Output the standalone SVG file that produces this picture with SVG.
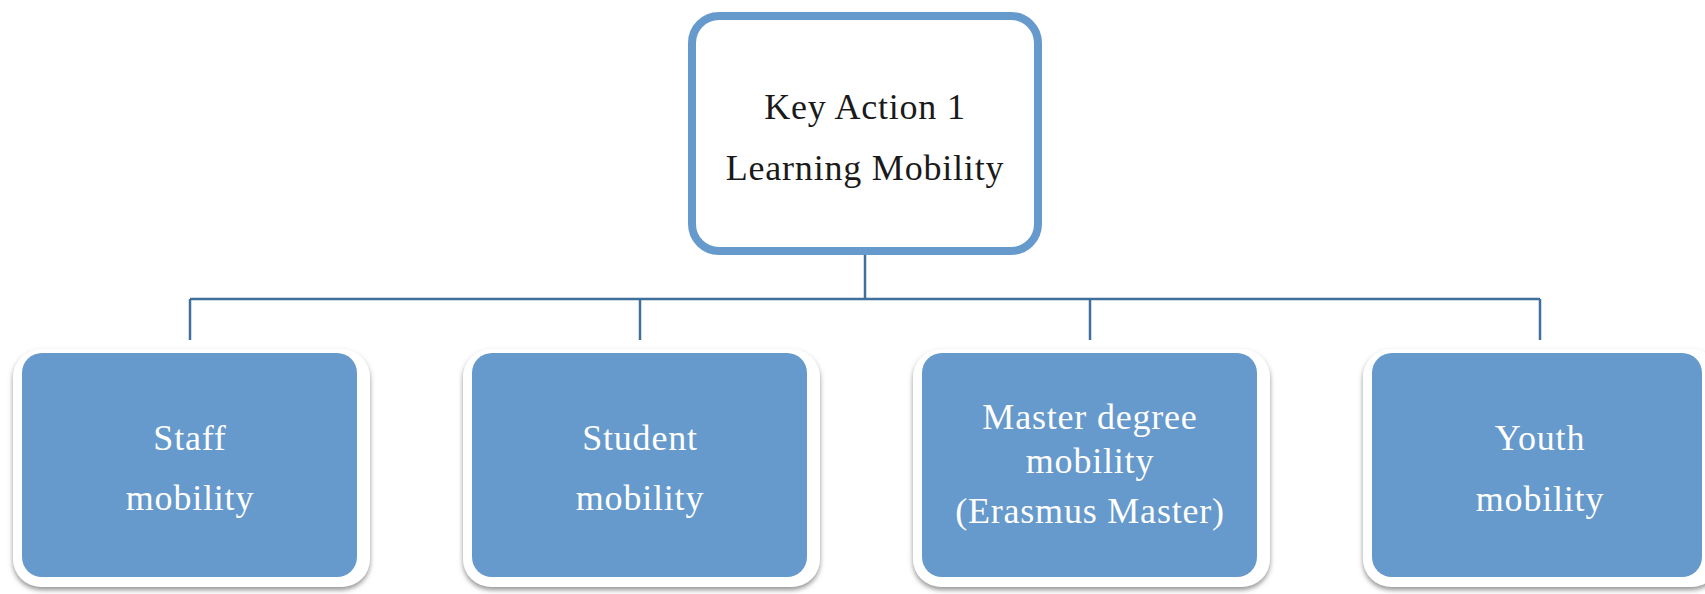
<svg xmlns="http://www.w3.org/2000/svg" width="1705" height="594" viewBox="0 0 1705 594">
<style>
.conn{stroke:#3f6f9c;stroke-width:2.5;fill:none}
.top{fill:#ffffff;stroke:#6699cc;stroke-width:8}
.frame{fill:#ffffff;filter:url(#sh)}
.blue{fill:#6699cc}
.t{font-family:"Liberation Serif","DejaVu Serif",serif;font-size:36px;letter-spacing:0.8px;text-anchor:middle}
.dark{fill:#1a1a1a}
.light{fill:#ffffff}
</style>
<defs>
<filter id="sh" x="-10%" y="-10%" width="120%" height="125%">
<feGaussianBlur in="SourceAlpha" stdDeviation="2.5"/>
<feOffset dx="0" dy="3" result="b"/>
<feFlood flood-color="#7a7a7a" flood-opacity="0.8"/>
<feComposite in2="b" operator="in"/>
<feMerge><feMergeNode/><feMergeNode in="SourceGraphic"/></feMerge>
</filter>
</defs>
<g id="connectors">
<path class="conn" d="M865 255 V299"/>
<path class="conn" d="M190 299 H1540"/>
<path class="conn" d="M190 299 V340"/>
<path class="conn" d="M640 299 V340"/>
<path class="conn" d="M1090 299 V340"/>
<path class="conn" d="M1540 299 V340"/>
</g>
<g id="root">
<rect class="top" x="692" y="16" width="346" height="235" rx="27"/>
<text class="t dark" x="865" y="119">Key Action 1</text>
<text class="t dark" x="865" y="180">Learning Mobility</text>
</g>
<g id="staff">
<rect class="frame" x="13" y="349" width="357" height="238" rx="28"/>
<rect class="blue" x="22" y="353" width="335" height="224" rx="20"/>
<text class="t light" x="190" y="450">Staff</text>
<text class="t light" x="190" y="510">mobility</text>
</g>
<g id="student">
<rect class="frame" x="463" y="349" width="357" height="238" rx="28"/>
<rect class="blue" x="472" y="353" width="335" height="224" rx="20"/>
<text class="t light" x="640" y="450">Student</text>
<text class="t light" x="640" y="510">mobility</text>
</g>
<g id="master">
<rect class="frame" x="913" y="349" width="357" height="238" rx="28"/>
<rect class="blue" x="922" y="353" width="335" height="224" rx="20"/>
<text class="t light" x="1090" y="429">Master degree</text>
<text class="t light" x="1090" y="473">mobility</text>
<text class="t light" x="1090" y="523">(Erasmus Master)</text>
</g>
<g id="youth">
<rect class="frame" x="1363" y="349" width="357" height="238" rx="28"/>
<rect class="blue" x="1372" y="353" width="330" height="224" rx="20"/>
<text class="t light" x="1540" y="450">Youth</text>
<text class="t light" x="1540" y="511">mobility</text>
</g>
</svg>
